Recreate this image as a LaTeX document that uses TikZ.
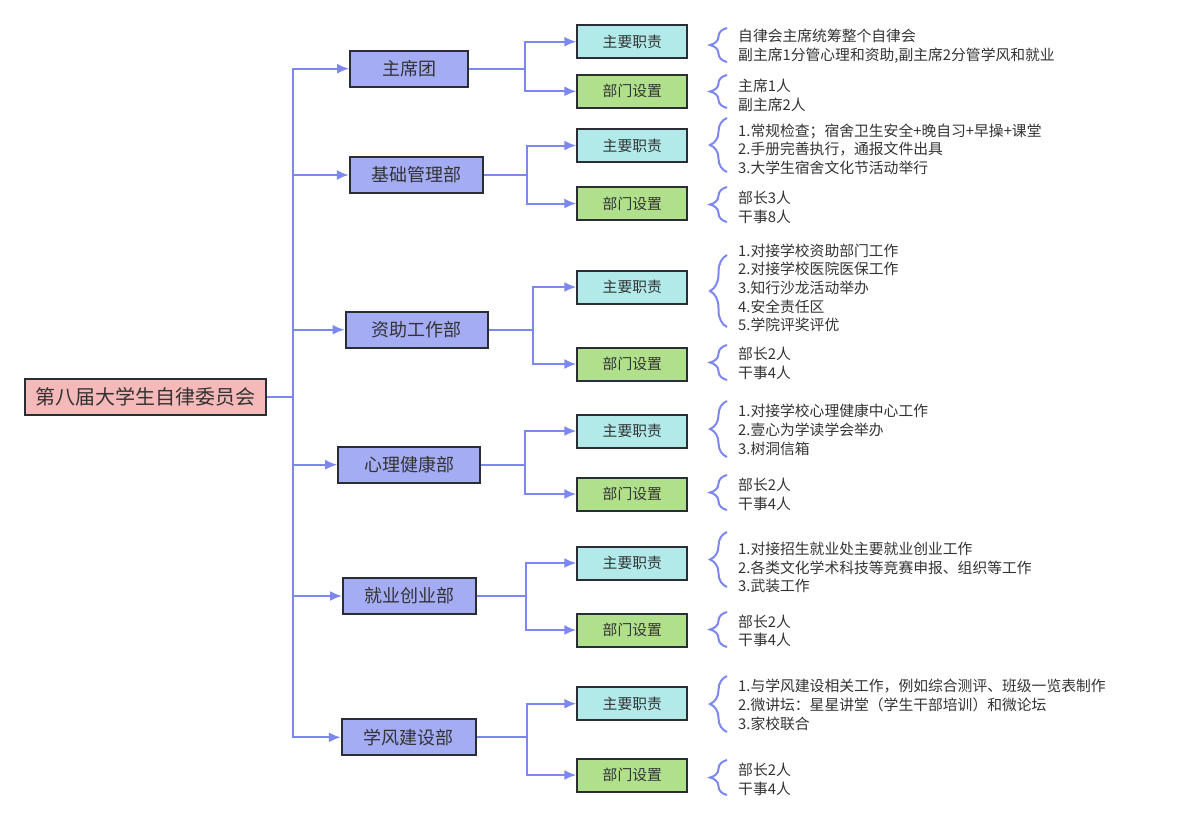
\documentclass[tikz,border=0pt]{standalone}
\usepackage{fontspec}
\setmainfont{Noto Sans CJK SC}
\usetikzlibrary{arrows.meta,decorations.pathreplacing}
\definecolor{rootfill}{RGB}{244,185,184}
\definecolor{deptfill}{RGB}{164,172,244}
\definecolor{dutyfill}{RGB}{178,234,234}
\definecolor{setfill}{RGB}{176,224,140}
\definecolor{edgeblue}{RGB}{125,135,240}
\definecolor{boxline}{RGB}{40,46,52}
\definecolor{txt}{RGB}{51,51,51}
\tikzset{
  box/.style={draw=boxline,line width=2pt,inner sep=0pt,text=txt},
  rootbox/.style={box,fill=rootfill,minimum width=241pt,minimum height=36pt,font=\fontsize{20}{24}\selectfont},
  deptbox/.style={box,fill=deptfill,minimum height=36pt,font=\fontsize{18}{22}\selectfont},
  dutybox/.style={box,fill=dutyfill,minimum width=110pt,minimum height=33pt,font=\fontsize{14.8}{18}\selectfont},
  setbox/.style={box,fill=setfill,minimum width=110pt,minimum height=33pt,font=\fontsize{14.8}{18}\selectfont},
  note/.style={anchor=west,align=left,inner sep=0pt,text=txt,font=\fontsize{14.8}{18.7}\selectfont},
  wire/.style={draw=edgeblue,line width=2pt},
  link/.style={wire,-{Latex[length=12pt,width=10pt]}},
  brc/.style={draw=edgeblue,line width=2pt,decorate,decoration={brace,amplitude=17pt}}
}
\begin{document}
\begin{tikzpicture}[x=1pt,y=-1pt]
\useasboundingbox (0,0) rectangle (1198,823);
\draw (145.8,396.7) node[rootbox] (root) {第八届大学生自律委员会};
\coordinate (trunk) at (292.7,396.7);
\draw[wire] (root.east) -- (trunk);
\draw (409.2,68.7) node[deptbox,minimum width=118pt] (zxt) {主席团};
\draw (416.3,175) node[deptbox,minimum width=133pt] (jcgl) {基础管理部};
\draw (416.5,329.7) node[deptbox,minimum width=142pt] (zzgz) {资助工作部};
\draw (409.2,464.7) node[deptbox,minimum width=142pt] (xljk) {心理健康部};
\draw (409.5,596) node[deptbox,minimum width=133pt] (jycy) {就业创业部};
\draw (408.8,737.3) node[deptbox,minimum width=134pt] (xfjs) {学风建设部};
\draw[link] (trunk) |- (zxt.west);
\draw[link] (trunk) |- (jcgl.west);
\draw[link] (trunk) |- (zzgz.west);
\draw[link] (trunk) |- (xljk.west);
\draw[link] (trunk) |- (jycy.west);
\draw[link] (trunk) |- (xfjs.west);
\draw (632.3,41.7) node[dutybox] (zxt-zz) {主要职责};
\draw (632.3,91.3) node[setbox] (zxt-sz) {部门设置};
\draw (632.3,145.5) node[dutybox] (jcgl-zz) {主要职责};
\draw (632.3,203.5) node[setbox] (jcgl-sz) {部门设置};
\draw (632.3,287) node[dutybox] (zzgz-zz) {主要职责};
\draw (632.3,364) node[setbox] (zzgz-sz) {部门设置};
\draw (632.3,431) node[dutybox] (xljk-zz) {主要职责};
\draw (632.3,494) node[setbox] (xljk-sz) {部门设置};
\draw (632.3,563) node[dutybox] (jycy-zz) {主要职责};
\draw (632.3,630) node[setbox] (jycy-sz) {部门设置};
\draw (632.3,703.7) node[dutybox] (xfjs-zz) {主要职责};
\draw (632.3,775) node[setbox] (xfjs-sz) {部门设置};
\coordinate (zxt-b) at (525,68.7);
\coordinate (jcgl-b) at (527,175);
\coordinate (zzgz-b) at (532.7,329.7);
\coordinate (xljk-b) at (525,464.7);
\coordinate (jycy-b) at (526,596);
\coordinate (xfjs-b) at (526.7,737.3);
\draw[wire] (zxt.east) -- (zxt-b);
\draw[link] (zxt-b) |- (zxt-zz.west);
\draw[link] (zxt-b) |- (zxt-sz.west);
\draw[wire] (jcgl.east) -- (jcgl-b);
\draw[link] (jcgl-b) |- (jcgl-zz.west);
\draw[link] (jcgl-b) |- (jcgl-sz.west);
\draw[wire] (zzgz.east) -- (zzgz-b);
\draw[link] (zzgz-b) |- (zzgz-zz.west);
\draw[link] (zzgz-b) |- (zzgz-sz.west);
\draw[wire] (xljk.east) -- (xljk-b);
\draw[link] (xljk-b) |- (xljk-zz.west);
\draw[link] (xljk-b) |- (xljk-sz.west);
\draw[wire] (jycy.east) -- (jycy-b);
\draw[link] (jycy-b) |- (jycy-zz.west);
\draw[link] (jycy-b) |- (jycy-sz.west);
\draw[wire] (xfjs.east) -- (xfjs-b);
\draw[link] (xfjs-b) |- (xfjs-zz.west);
\draw[link] (xfjs-b) |- (xfjs-sz.west);
\draw[brc] (727,62) -- (727,28);
\draw (738,45.8) node[note] (zxt-zzt) {自律会主席统筹整个自律会\\副主席1分管心理和资助,副主席2分管学风和就业};
\draw[brc] (727,108) -- (727,75);
\draw (738,95) node[note] (zxt-szt) {主席1人\\副主席2人};
\draw[brc] (727,172) -- (727,118);
\draw (738,149.2) node[note] (jcgl-zzt) {1.常规检查；宿舍卫生安全+晚自习+早操+课堂\\2.手册完善执行，通报文件出具\\3.大学生宿舍文化节活动举行};
\draw[brc] (727,222) -- (727,187);
\draw (738,207.3) node[note] (jcgl-szt) {部长3人\\干事8人};
\draw[brc] (727,327) -- (727,255);
\draw (738,287.7) node[note] (zzgz-zzt) {1.对接学校资助部门工作\\2.对接学校医院医保工作\\3.知行沙龙活动举办\\4.安全责任区\\5.学院评奖评优};
\draw[brc] (727,380) -- (727,345);
\draw (738,363.3) node[note] (zzgz-szt) {部长2人\\干事4人};
\draw[brc] (727,457) -- (727,401);
\draw (738,430) node[note] (xljk-zzt) {1.对接学校心理健康中心工作\\2.壹心为学读学会举办\\3.树洞信箱};
\draw[brc] (727,510) -- (727,475);
\draw (738,494.2) node[note] (xljk-szt) {部长2人\\干事4人};
\draw[brc] (727,587) -- (727,532);
\draw (738,567.5) node[note] (jycy-zzt) {1.对接招生就业处主要就业创业工作\\2.各类文化学术科技等竞赛申报、组织等工作\\3.武装工作};
\draw[brc] (727,647) -- (727,612);
\draw (738,630.8) node[note] (jycy-szt) {部长2人\\干事4人};
\draw[brc] (727,732) -- (727,676);
\draw (738,705) node[note] (xfjs-zzt) {1.与学风建设相关工作，例如综合测评、班级一览表制作\\2.微讲坛：星星讲堂（学生干部培训）和微论坛\\3.家校联合};
\draw[brc] (727,795) -- (727,760);
\draw (738,779.2) node[note] (xfjs-szt) {部长2人\\干事4人};
\end{tikzpicture}
\end{document}
